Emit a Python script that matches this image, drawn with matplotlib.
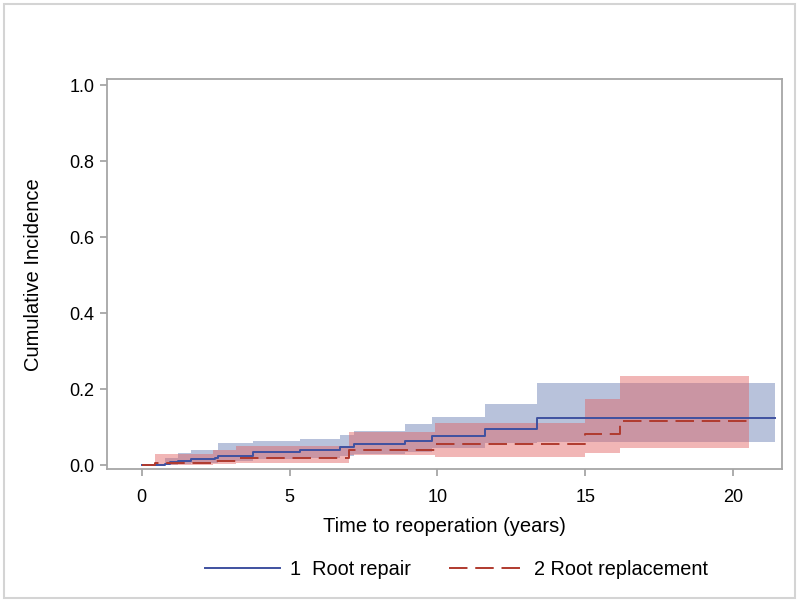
import numpy as np
import matplotlib
matplotlib.use("Agg")
import matplotlib.pyplot as plt
from matplotlib.patches import Rectangle

plt.rcParams['font.family'] = ['Liberation Sans', 'DejaVu Sans']

# ── data (step functions, post) ────────────────────────────
# 1 Root repair
repair_t     = [0, 0.79, 0.97, 1.24, 1.66, 2.48, 2.59, 3.75, 5.36, 6.71, 7.18, 8.9, 9.81, 11.6, 13.36, 21.4]
repair_ci    = [0, 0.003, 0.007, 0.011, 0.016, 0.020, 0.024, 0.034, 0.041, 0.047, 0.055, 0.063, 0.076, 0.095, 0.125, 0.125]
repair_upper = [0, 0.020, 0.020, 0.032, 0.039, 0.039, 0.057, 0.064, 0.070, 0.079, 0.090, 0.108, 0.126, 0.160, 0.215, 0.215]
repair_lower = [0, 0.001, 0.001, 0.004, 0.006, 0.006, 0.010, 0.016, 0.020, 0.024, 0.028, 0.035, 0.045, 0.057, 0.061, 0.061]

# 2 Root replacement
repl_t     = [0, 0.45, 2.42, 3.19, 7.02, 9.92, 15.0, 16.18, 20.55]
repl_ci    = [0, 0.006, 0.011, 0.019, 0.039, 0.055, 0.083, 0.117, 0.117]
repl_upper = [0, 0.028, 0.039, 0.050, 0.088, 0.112, 0.173, 0.234, 0.234]
repl_lower = [0, 0.000, 0.002, 0.006, 0.026, 0.021, 0.031, 0.044, 0.044]

x_ticks = [0, 5, 10, 15, 20]
y_ticks = [0.0, 0.2, 0.4, 0.6, 0.8, 1.0]

blue_line = '#3f51a0'
red_line = '#b03a2e'
blue_fill = '#7387b9'
red_fill = '#e15f5f'
axis_gray = '#a6a6a6'

fig = plt.figure(figsize=(8, 6.02), dpi=100)
ax = fig.add_axes([0.134, 0.2204, 0.843, 0.6478])

# confidence bands
ax.fill_between(repair_t, repair_lower, repair_upper, step='post',
                color=blue_fill, alpha=0.5, linewidth=0)
ax.fill_between(repl_t, repl_lower, repl_upper, step='post',
                color=red_fill, alpha=0.45, linewidth=0)

# cumulative incidence curves
ax.step(repair_t, repair_ci, where='post', color=blue_line, linewidth=1.4,
        label='1  Root repair')
ax.step(repl_t, repl_ci, where='post', color=red_line, linewidth=1.4,
        dashes=(9.5, 4), label='2 Root replacement')

ax.set_xlim(-1.17, 21.64)
ax.set_ylim(-0.011, 1.015)
ax.set_xticks(x_ticks)
ax.set_yticks(y_ticks)
ax.set_yticklabels([f"{v:.1f}" for v in y_ticks])

for s in ax.spines.values():
    s.set_color(axis_gray)
    s.set_linewidth(1.3)
ax.tick_params(colors=axis_gray, length=5, width=1.3, labelsize=13,
               labelcolor='black', pad=4)
ax.tick_params(axis='x', pad=9)

ax.set_xlabel("Time to reoperation (years)", fontsize=14.5, labelpad=8)
ax.set_ylabel("Cumulative Incidence", fontsize=14.5, labelpad=19)

fig.legend(loc='center', bbox_to_anchor=(0.5706, 0.0548), ncol=2,
           frameon=False, fontsize=14.3, handlelength=3.75,
           columnspacing=1.95, handletextpad=0.5)

# light outer frame around the whole graph
fig.patches.append(Rectangle((0.005, 0.006), 0.989, 0.988,
                             transform=fig.transFigure, fill=False,
                             edgecolor='#d4d4d4', linewidth=1.5))

fig.savefig("out.png", dpi=100)
